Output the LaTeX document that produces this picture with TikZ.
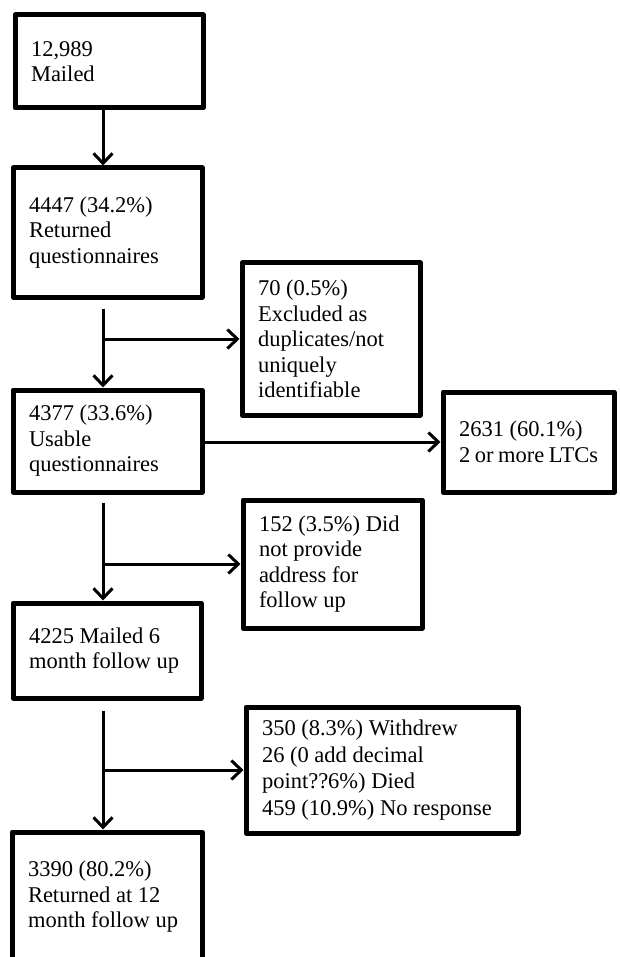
\documentclass[tikz,border=0pt]{standalone}
\usepackage{fontspec}
\setmainfont{Liberation Serif}
\usepackage{tikz}
\usetikzlibrary{arrows.meta, positioning}
\tikzset{
  stage/.style={
    draw,
    rectangle,
    line width=5pt,
    line join=round,
    align=flush left,
    inner xsep=16pt,
    inner ysep=0pt,
    font=\fontsize{22.5}{25.5}\selectfont,
  },
  arrow/.style={
    -{Straight Barb[length=10pt,width=19pt]},
    line width=3pt
  }
}
\begin{document}
\begin{tikzpicture}[x=1pt, y=-1pt]
\useasboundingbox (0,0) rectangle (619,957);

% main column
\coordinate (trunk) at (103,0);
\node[stage, text width=156pt, minimum height=93pt] (mailed) at (109,61.5) {12,989\\Mailed};
\node[stage, text width=157pt, minimum height=129pt] (returned) at (107.5,232.5) {4447 (34.2\%)\\Returned\\questionnaires};
\node[stage, text width=157pt, minimum height=102pt] (usable) at (107.5,441) {4377 (33.6\%)\\Usable\\questionnaires};
\node[stage, text width=156pt, minimum height=95pt] (mailedsix) at (107,650.5) {4225 Mailed 6\\month follow up};
\node[stage, text width=158pt, minimum height=130pt] (returnedtwelve) at (107,897) {3390 (80.2\%)\\Returned at 12\\month follow up};

% exclusions
\node[stage, text width=146pt, minimum height=152pt] (excluded) at (331,339) {70 (0.5\%)\\Excluded as\\duplicates/not\\uniquely\\identifiable};
\node[stage, text width=139pt, minimum height=100pt] (ltc) at (528.5,442) {2631 (60.1\%)\\2~or~more~LTCs};
\node[stage, text width=147pt, minimum height=128pt] (noaddress) at (332.5,564) {152 (3.5\%) Did\\not provide\\address for\\follow up};
\node[stage, text width=240pt, minimum height=126pt, font=\fontsize{22.5}{26.5}\selectfont] (lost) at (382,770) {350 (8.3\%) Withdrew\\26 (0 add decimal\\point??6\%) Died\\459 (10.9\%) No response};

% connectors
\draw[arrow] (mailed.south -| trunk) -- (returned.north -| trunk);
\draw[arrow, shorten <=9pt] (returned.south -| trunk) -- (usable.north -| trunk);
\draw[arrow] (excluded.west -| trunk) -- (excluded.west);
\draw[arrow] (usable.east |- ltc.west) -- (ltc.west);
\draw[arrow, shorten <=8pt] (usable.south -| trunk) -- (mailedsix.north -| trunk);
\draw[arrow] (noaddress.west -| trunk) -- (noaddress.west);
\draw[arrow, shorten <=10pt] (mailedsix.south -| trunk) -- (returnedtwelve.north -| trunk);
\draw[arrow] (lost.west -| trunk) -- (lost.west);

\end{tikzpicture}
\end{document}
